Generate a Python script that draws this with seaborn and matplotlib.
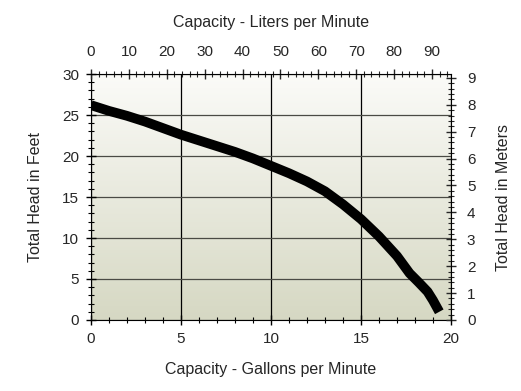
import numpy as np
import pandas as pd
import matplotlib
matplotlib.use("Agg")
import matplotlib.pyplot as plt
import seaborn as sns
from matplotlib.ticker import MultipleLocator

# pump curve
gpm = [0, 1, 2, 3, 4, 5, 6, 7, 8, 9, 10, 11, 12, 13, 14, 15, 16, 17, 17.7, 18.2, 18.7, 19.0, 19.35]
head_ft = [26.2, 25.5, 24.9, 24.2, 23.4, 22.6, 21.9, 21.2, 20.5, 19.7, 18.8, 17.9, 16.9, 15.7, 14.1, 12.3, 10.2, 7.8, 5.7, 4.6, 3.45, 2.4, 1.0]

x_ticks = [0, 5, 10, 15, 20]
y_ticks = [0, 5, 10, 15, 20, 25, 30]
lpm_ticks = [0, 10, 20, 30, 40, 50, 60, 70, 80, 90]
m_ticks = [0, 1, 2, 3, 4, 5, 6, 7, 8, 9]

def main():
    sns.set_style("white")
    plt.rcParams['font.family'] = ['Liberation Sans', 'DejaVu Sans']

    df = pd.DataFrame({'gpm': gpm, 'head': head_ft})

    fig = plt.figure(figsize=(5.21, 3.91), dpi=100)
    ax = fig.add_axes([0.1747, 0.1816, 0.6909, 0.6291])

    # background gradient: beige at the bottom, near white at the top
    grad = np.linspace(0, 1, 256).reshape(-1, 1)
    cmap = matplotlib.colors.LinearSegmentedColormap.from_list("bg", ["#d6d8c3", "#fbfbf8"])
    ax.imshow(grad, extent=[0, 20, 0, 30], origin='lower', aspect='auto', cmap=cmap, zorder=0)

    sns.lineplot(data=df, x='gpm', y='head', color='black', linewidth=7,
                 solid_capstyle='butt', ax=ax, zorder=3)

    ax.set_xlim(0, 20)
    ax.set_ylim(0, 30)
    ax.set_xticks(x_ticks)
    ax.set_yticks(y_ticks)
    ax.xaxis.set_minor_locator(MultipleLocator(1))
    ax.yaxis.set_minor_locator(MultipleLocator(1))
    ax.grid(True, which='major', axis='x', color='black', linewidth=0.9, zorder=1)
    ax.grid(True, which='major', axis='y', color='#4a4a44', linewidth=0.9, zorder=1)
    ax.set_axisbelow(True)
    ax.set_xlabel("Capacity - Gallons per Minute", fontsize=11.5, labelpad=12)
    ax.set_ylabel("Total Head in Feet", fontsize=11.5, labelpad=14)
    ax.tick_params(which='major', direction='inout', length=7, width=1, labelsize=11,
                   color='black', pad=5)
    ax.tick_params(which='minor', direction='inout', length=5, width=0.8, color='black')
    for s in ax.spines.values():
        s.set_visible(False)
    ax.spines['left'].set_visible(True)
    ax.spines['bottom'].set_visible(True)
    ax.spines['left'].set_color('black')
    ax.spines['bottom'].set_color('black')

    # top axis in liters per minute
    top = ax.twiny()
    top.set_xlim(0, 95)
    top.set_xticks(lpm_ticks)
    top.xaxis.set_minor_locator(MultipleLocator(2))
    top.set_xlabel("Capacity - Liters per Minute", fontsize=11.5, labelpad=13)
    top.tick_params(which='major', direction='inout', length=7, width=1, labelsize=11, pad=7)
    top.tick_params(which='minor', direction='inout', length=5, width=0.8)

    # right axis in meters
    right = ax.twinx()
    right.set_ylim(0, 30 * 0.3048)
    right.set_yticks(m_ticks)
    right.yaxis.set_minor_locator(MultipleLocator(0.2))
    right.set_ylabel("Total Head in Meters", fontsize=11.5, labelpad=15)
    right.tick_params(which='major', direction='inout', length=7, width=1, labelsize=11, pad=8)
    right.tick_params(which='minor', direction='inout', length=5, width=0.8)

    for a in (top, right):
        for s in a.spines.values():
            s.set_visible(False)
    top.spines['top'].set_visible(True)
    top.spines['top'].set_color('black')
    right.spines['right'].set_visible(True)
    right.spines['right'].set_color('black')

    fig.savefig("out.png", dpi=100)

if __name__ == "__main__":
    main()
